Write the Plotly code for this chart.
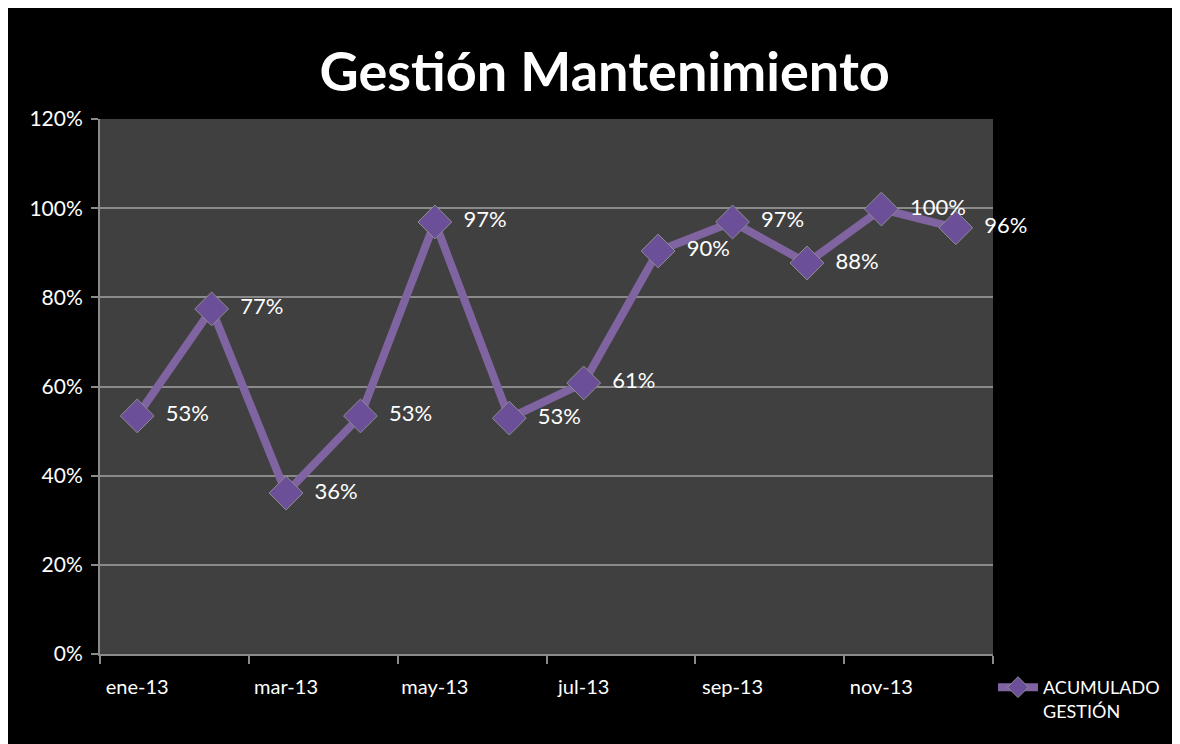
import plotly.graph_objects as go

# data
meses = ["ene-13", "feb-13", "mar-13", "abr-13", "may-13", "jun-13",
         "jul-13", "ago-13", "sep-13", "oct-13", "nov-13", "dic-13"]
acumulado = [0.534, 0.774, 0.361, 0.534, 0.969, 0.529,
             0.608, 0.904, 0.969, 0.877, 0.998, 0.956]

W, H = 1170, 736
L, R, T, B = 92, 185, 111, 90

fig = go.Figure()

fig.add_trace(
    go.Scatter(
        x=meses,
        y=acumulado,
        mode="lines+markers+text",
        name="ACUMULADO<br>GESTIÓN",
        line=dict(color="#8064a2", width=8),
        marker=dict(
            symbol="diamond",
            size=26,
            color="#6c4f99",
            line=dict(color="#8e8e8e", width=1)
        ),
        text=["\u00a0\u00a0" + f"{v:.0%}" for v in acumulado],
        textposition="middle right",
        textfont=dict(color="white", size=22, family="Lato"),
        cliponaxis=False
    )
)

fig.update_layout(
    width=W,
    height=H,
    paper_bgcolor="black",
    plot_bgcolor="#404040",
    margin=dict(l=L, r=R, t=T, b=B),
    font=dict(family="Lato", color="white", size=20),
    title=dict(
        text="<b>Gestión Mantenimiento</b>",
        x=0.51,
        xanchor="center",
        y=1 - 64 / H,
        yanchor="middle",
        font=dict(size=54, color="white", family="Lato")
    ),
    showlegend=True,
    legend=dict(
        x=1.0,
        xanchor="left",
        y=-0.028,
        yanchor="top",
        bgcolor="rgba(0,0,0,0)",
        font=dict(size=18, color="white"),
        valign="top",
        itemwidth=40
    ),
    xaxis=dict(
        type="category",
        range=[-0.5, 11.5],
        dtick=2,
        tickson="boundaries",
        ticks="outside",
        ticklen=8,
        tickcolor="#8a8a8a",
        tickwidth=2,
        showline=True,
        linecolor="#8a8a8a",
        linewidth=2,
        showgrid=False,
        ticklabelstandoff=14,
        tickfont=dict(size=20, color="white")
    ),
    yaxis=dict(
        range=[0, 1.2],
        dtick=0.2,
        tickformat=".0%",
        ticks="outside",
        ticklen=7,
        tickcolor="#8a8a8a",
        tickwidth=2,
        showline=True,
        linecolor="#8a8a8a",
        linewidth=2,
        gridcolor="#8a8a8a",
        gridwidth=2,
        zeroline=False,
        ticklabelstandoff=4,
        tickfont=dict(size=21, color="white")
    )
)

fig.write_html("out.html")
